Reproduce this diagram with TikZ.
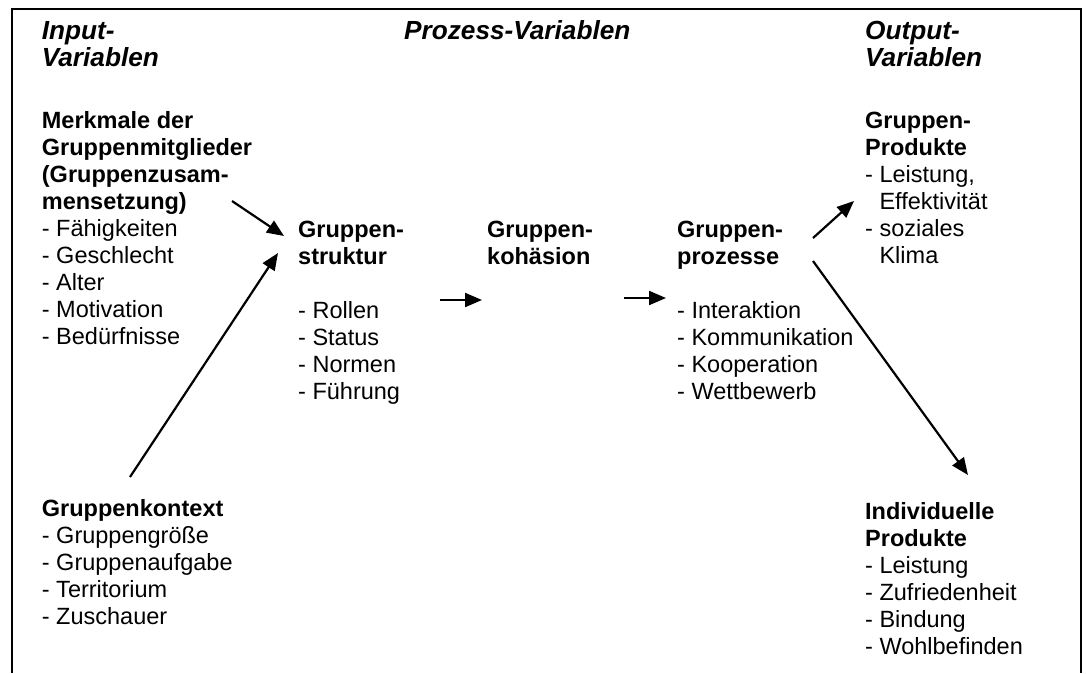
\documentclass[tikz,border=0pt]{standalone}
\usepackage{fontspec}
\setmainfont{Liberation Sans}
\usetikzlibrary{arrows.meta}
% one-column block whose baseline is the baseline of its first line
\newcommand\txtblock[1]{\begin{tabular}[t]{@{}l@{}}#1\end{tabular}}
\begin{document}
\begin{tikzpicture}[x=1pt,y=-1pt,
  txt/.style={anchor=base west, inner sep=0pt, font=\fontsize{23.5}{27}\selectfont},
  head/.style={anchor=base west, inner sep=0pt, font=\fontsize{26.2}{27.4}\selectfont\bfseries\itshape},
  flow/.style={line width=2.2pt, -{Triangle[length=17pt,width=14pt]}},
  frame/.style={line width=2pt},
]
\useasboundingbox (0,0) rectangle (1086,673);

% open frame (no bottom edge)
\draw[frame] (12,673) -- (12,9) -- (1081,9) -- (1081,673);

% column headings
\node[head] (hin)  at (41.7,39.3) {\txtblock{Input-\\Variablen}};
\node[head] (hpro) at (404,39.3)  {Prozess-Variablen};
\node[head] (hout) at (865,39.3)  {\txtblock{Output-\\Variablen}};

% input variables
\node[txt] (merkmale) at (41.7,128) {\txtblock{\textbf{Merkmale der}\\\textbf{Gruppenmitglieder}\\\textbf{(Gruppenzusam-}\\\textbf{mensetzung)}\\- Fähigkeiten\\- Geschlecht\\- Alter\\- Motivation\\- Bedürfnisse}};
\node[txt] (kontext) at (41.7,516) {\txtblock{\textbf{Gruppenkontext}\\- Gruppengröße\\- Gruppenaufgabe\\- Territorium\\- Zuschauer}};

% process variables
\node[txt] (struktur) at (298,237) {\txtblock{\textbf{Gruppen-}\\\textbf{struktur}\\ \\- Rollen\\- Status\\- Normen\\- Führung}};
\node[txt] (kohaesion) at (487,237) {\txtblock{\textbf{Gruppen-}\\\textbf{kohäsion}}};
\node[txt] (prozesse) at (677,237) {\txtblock{\textbf{Gruppen-}\\\textbf{prozesse}\\ \\- Interaktion\\- Kommunikation\\- Kooperation\\- Wettbewerb}};

% output variables
\node[txt] (gprod) at (865,128) {\txtblock{\textbf{Gruppen-}\\\textbf{Produkte}\\- Leistung,\\\hphantom{- }Effektivität\\- soziales\\\hphantom{- }Klima}};
\node[txt] (iprod) at (865,519) {\txtblock{\textbf{Individuelle}\\\textbf{Produkte}\\- Leistung\\- Zufriedenheit\\- Bindung\\- Wohlbefinden}};

% connector end points
\coordinate (m-out) at (232,201);
\coordinate (s-in1) at (284,236);
\coordinate (k-out) at (130,477);
\coordinate (s-in2) at (278,253);
\coordinate (s-out) at (440,300);
\coordinate (h-in)  at (482,300);
\coordinate (h-out) at (624,298);
\coordinate (p-in)  at (666,298);
\coordinate (p-out1) at (813,238);
\coordinate (g-in)  at (854,201);
\coordinate (p-out2) at (813,261);
\coordinate (i-in)  at (968,475);

% flow arrows
\draw[flow] (m-out) -- (s-in1);
\draw[flow] (k-out) -- (s-in2);
\draw[flow] (s-out) -- (h-in);
\draw[flow] (h-out) -- (p-in);
\draw[flow] (p-out1) -- (g-in);
\draw[flow] (p-out2) -- (i-in);
\end{tikzpicture}
\end{document}
